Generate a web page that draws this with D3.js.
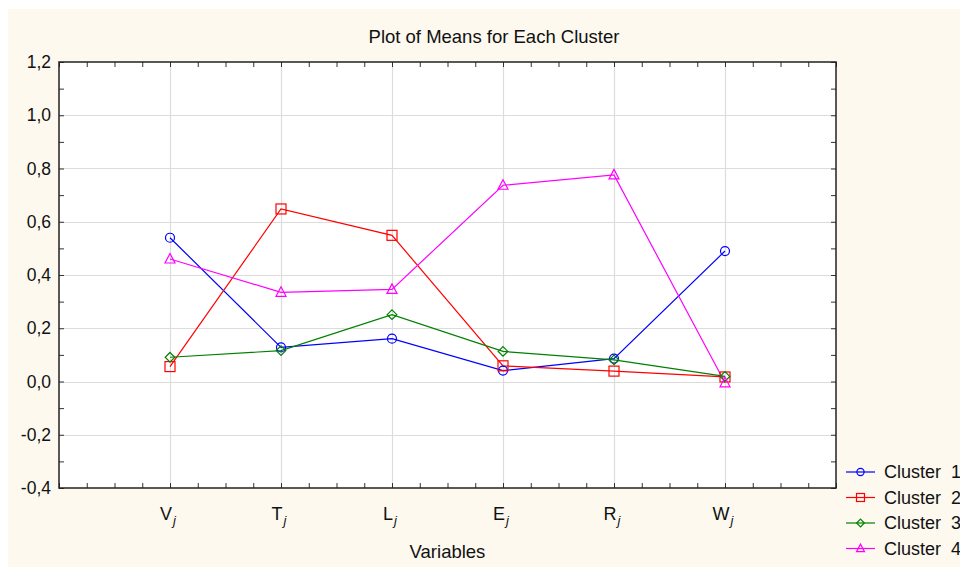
<!DOCTYPE html>
<html>
<head>
<meta charset="utf-8">
<script src="https://cdn.jsdelivr.net/npm/d3@7"></script>
<style>
  body { margin: 0; background: #fff; }
  svg text { font-family: "Liberation Sans", Arial, sans-serif; fill: #111; }
</style>
</head>
<body>
<div id="chart"></div>
<script>
var variables = ["V", "T", "L", "E", "R", "W"];
var yTicks = [-0.4, -0.2, 0.0, 0.2, 0.4, 0.6, 0.8, 1.0, 1.2];
var clusterNames = ["Cluster  1", "Cluster  2", "Cluster  3", "Cluster  4"];
var cluster1 = [0.54, 0.128, 0.161, 0.041, 0.086, 0.49];
var cluster2 = [0.056, 0.648, 0.549, 0.059, 0.039, 0.017];
var cluster3 = [0.091, 0.116, 0.251, 0.113, 0.081, 0.019];
var cluster4 = [0.46, 0.335, 0.346, 0.737, 0.776, -0.005];

var series = [
    {name: clusterNames[0], values: cluster1, color: "#0000ff", shape: "circle"},
    {name: clusterNames[1], values: cluster2, color: "#ff0000", shape: "square"},
    {name: clusterNames[2], values: cluster3, color: "#008000", shape: "diamond"},
    {name: clusterNames[3], values: cluster4, color: "#ff00ff", shape: "triangle"}
];

var W = 960, H = 568;
var margin = {top: 62, left: 59, right: 124, bottom: 80};
var width = W - margin.left - margin.right;
var height = H - margin.top - margin.bottom;

var svg = d3.select("#chart").append("svg")
    .attr("width", W)
    .attr("height", H);

svg.append("rect")
    .attr("x", 8).attr("y", 9)
    .attr("width", W - 8).attr("height", 558)
    .attr("fill", "#fdf9ef");

var g = svg.append("g")
    .attr("transform", "translate(" + margin.left + "," + margin.top + ")");

var x = d3.scaleLinear().domain([0, 7]).range([0, width]);
var y = d3.scaleLinear().domain([-0.4, 1.2]).range([height, 0]);

g.append("rect")
    .attr("width", width).attr("height", height)
    .attr("fill", "#fff");

// grid
g.selectAll(".hgrid")
    .data(yTicks.slice(1, -1))
    .enter().append("line")
    .attr("x1", 0).attr("x2", width)
    .attr("y1", function(d) { return Math.round(y(d)) + 0.5 })
    .attr("y2", function(d) { return Math.round(y(d)) + 0.5 })
    .attr("stroke", "#dcdcdc").attr("stroke-width", 1.2);

g.selectAll(".vgrid")
    .data(variables)
    .enter().append("line")
    .attr("x1", function(d, i) { return Math.round(x(i + 1)) + 0.5 })
    .attr("x2", function(d, i) { return Math.round(x(i + 1)) + 0.5 })
    .attr("y1", 0).attr("y2", height)
    .attr("stroke", "#dcdcdc").attr("stroke-width", 1.2);

// minor ticks (inward) on all four sides
var xMinor = d3.range(0, 7.01, 0.25);
var yMinor = d3.range(-0.4, 1.201, 0.1);

g.append("g")
    .attr("transform", "translate(0," + height + ")")
    .call(d3.axisBottom(x).tickValues(xMinor).tickSize(-5).tickFormat(""))
    .call(function(a) { a.select(".domain").remove() });
g.append("g")
    .call(d3.axisTop(x).tickValues(xMinor).tickSize(-5).tickFormat(""))
    .call(function(a) { a.select(".domain").remove() });
g.append("g")
    .call(d3.axisLeft(y).tickValues(yMinor).tickSize(-5).tickFormat(""))
    .call(function(a) { a.select(".domain").remove() });
g.append("g")
    .attr("transform", "translate(" + width + ",0)")
    .call(d3.axisRight(y).tickValues(yMinor).tickSize(-5).tickFormat(""))
    .call(function(a) { a.select(".domain").remove() });

g.selectAll(".tick line").attr("stroke", "#333");

// y labels
var yAxis = g.append("g")
    .call(d3.axisLeft(y).tickValues(yTicks).tickSize(0).tickPadding(8)
        .tickFormat(function(d) { return d3.format(".1f")(d).replace(".", ",").replace("−", "-") }));
yAxis.select(".domain").remove();
yAxis.selectAll("text").style("font-size", "17.5px").style("font-family", "'Liberation Sans', Arial, sans-serif").attr("fill", "#111");

// x labels with italic subscript j
var xl = g.selectAll(".xlab")
    .data(variables)
    .enter().append("text")
    .attr("x", function(d, i) { return x(i + 1) - 2 })
    .attr("y", height + 32)
    .attr("text-anchor", "middle")
    .style("font-size", "18px");
xl.append("tspan").text(function(d) { return d });
xl.append("tspan")
    .attr("dy", 5)
    .attr("dx", 1)
    .style("font-size", "13px")
    .style("font-style", "italic")
    .text("j");

// frame
g.append("rect")
    .attr("width", width).attr("height", height)
    .attr("fill", "none")
    .attr("stroke", "#222").attr("stroke-width", 1.5);

// titles
svg.append("text")
    .attr("x", 494).attr("y", 43)
    .attr("text-anchor", "middle")
    .style("font-size", "18.5px")
    .text("Plot of Means for Each Cluster");

svg.append("text")
    .attr("x", margin.left + width / 2).attr("y", 558)
    .attr("text-anchor", "middle")
    .style("font-size", "18.5px")
    .text("Variables");

function drawMarker(sel, shape, color, k) {
    k = k || 1;
    if (shape === "circle") {
        sel.append("circle").attr("r", 4.5 * k);
    } else if (shape === "square") {
        sel.append("rect").attr("x", -5 * k).attr("y", -5 * k).attr("width", 10 * k).attr("height", 10 * k);
    } else if (shape === "diamond") {
        var r = 4.8 * k;
        sel.append("path").attr("d", "M0," + (-r) + "L" + r + ",0L0," + r + "L" + (-r) + ",0Z");
    } else {
        sel.append("path").attr("d", "M0," + (-5.5 * k) + "L" + (5 * k) + "," + (4 * k) + "L" + (-5 * k) + "," + (4 * k) + "Z");
    }
    sel.selectAll("circle,rect,path")
        .attr("fill", "none")
        .attr("stroke", color)
        .attr("stroke-width", 1.2);
}

var line = d3.line()
    .x(function(d, i) { return x(i + 1) })
    .y(function(d) { return y(d) });

series.forEach(function(s) {
    g.append("path")
        .datum(s.values)
        .attr("fill", "none")
        .attr("stroke", s.color)
        .attr("stroke-width", 1.2)
        .attr("d", line);
});
series.forEach(function(s) {
    g.selectAll(null)
        .data(s.values)
        .enter().append("g")
        .attr("transform", function(d, i) { return "translate(" + x(i + 1) + "," + y(d) + ")" })
        .each(function() { drawMarker(d3.select(this), s.shape, s.color) });
});

// legend
var legend = svg.selectAll(".legend")
    .data(series)
    .enter().append("g")
    .attr("transform", function(d, i) { return "translate(846," + (472 + i * 25.5) + ")" });

legend.append("line")
    .attr("x1", 0).attr("x2", 29)
    .attr("stroke", function(d) { return d.color })
    .attr("stroke-width", 1.2);
legend.append("g")
    .attr("transform", "translate(14.5,0)")
    .each(function(d) { drawMarker(d3.select(this), d.shape, d.color, 0.8) });
legend.append("text")
    .attr("x", 38)
    .attr("dy", "0.35em")
    .style("font-size", "18px")
    .style("white-space", "pre")
    .text(function(d) { return d.name });
</script>
</body>
</html>
